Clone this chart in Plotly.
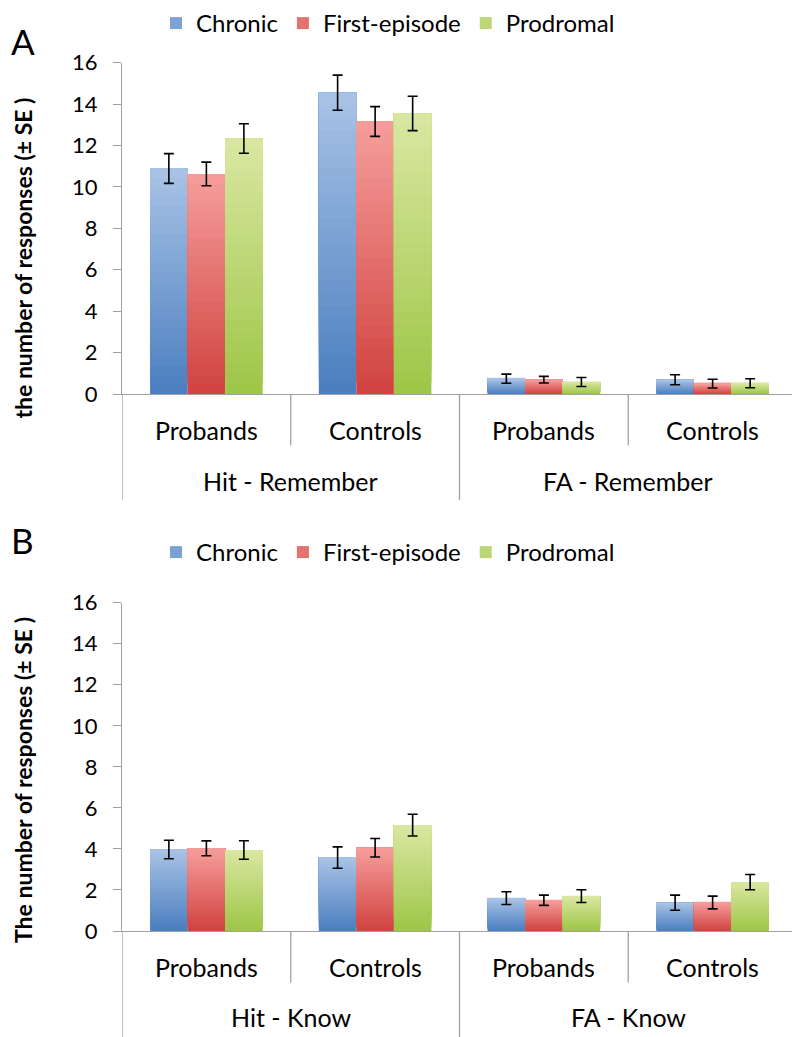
import plotly.graph_objects as go

# ---------------- data ----------------
subgroups = ["Probands", "Controls"]
groups_A = ["Hit - Remember", "FA - Remember"]
groups_B = ["Hit - Know", "FA - Know"]
series = ["Chronic", "First-episode", "Prodromal"]
y_ticks = [0, 2, 4, 6, 8, 10, 12, 14, 16]

# order: (group1, Probands), (group1, Controls), (group2, Probands), (group2, Controls)
chronic_A = [10.89, 14.55, 0.74, 0.69]
chronic_A_se = [0.72, 0.85, 0.22, 0.24]
first_A = [10.63, 13.16, 0.69, 0.50]
first_A_se = [0.57, 0.72, 0.16, 0.21]
prodromal_A = [12.34, 13.55, 0.58, 0.52]
prodromal_A_se = [0.71, 0.83, 0.22, 0.22]

chronic_B = [3.97, 3.58, 1.60, 1.38]
chronic_B_se = [0.45, 0.52, 0.31, 0.37]
first_B = [4.03, 4.06, 1.50, 1.39]
first_B_se = [0.36, 0.45, 0.25, 0.31]
prodromal_B = [3.95, 5.16, 1.70, 2.38]
prodromal_B_se = [0.45, 0.53, 0.31, 0.37]

# ---------------- style ----------------
FONT = "Lato"
GRAY = "#A0A0A0"
grad = {  # (bottom colour, top colour)
    "Chronic": ((74, 126, 191), (169, 195, 230)),
    "First-episode": ((208, 66, 63), (246, 158, 156)),
    "Prodromal": ((157, 198, 70), (218, 231, 162)),
}
NSEG = 24


def mix(c0, c1, t):
    return "rgb(%d,%d,%d)" % tuple(round(a + (b - a) * t) for a, b in zip(c0, c1))


W, H = 800, 1037
OFF = 8  # page body margin in front of the figure


def fx(p):  # page x pixel -> paper x
    return (p - OFF) / W


def fy(p):  # page y pixel -> paper y
    return 1 - (p - OFF) / H


x_dom = [fx(122), fx(797)]
yA_dom = [fy(394), fy(62.7)]
yB_dom = [fy(931), fy(602.7)]

fig = go.Figure()

panels = [
    ("x", "y", "legend", [chronic_A, first_A, prodromal_A],
     [chronic_A_se, first_A_se, prodromal_A_se]),
    ("x2", "y2", "legend2", [chronic_B, first_B, prodromal_B],
     [chronic_B_se, first_B_se, prodromal_B_se]),
]

pos = list(range(len(groups_A) * len(subgroups)))

for xa, ya, leg, vals_list, se_list in panels:
    for s, vals, ses in zip(series, vals_list, se_list):
        c0, c1 = grad[s]
        for k in range(NSEG):
            t = (k + 0.5) / NSEG
            # each slice reaches to the bar top; the next slice covers its upper part
            fig.add_trace(go.Bar(
                x=pos, y=[v * (NSEG - k) / NSEG for v in vals],
                base=[v * k / NSEG for v in vals],
                offsetgroup=s, xaxis=xa, yaxis=ya,
                marker=dict(color=mix(c0, c1, t), line=dict(width=0)),
                name=s, legend=leg, legendgroup=leg + s,
                showlegend=(k == NSEG // 2), hoverinfo="skip",
            ))
        fig.add_trace(go.Bar(
            x=pos, y=vals, offsetgroup=s, xaxis=xa, yaxis=ya,
            marker=dict(color="rgba(0,0,0,0)", line=dict(width=0)),
            error_y=dict(type="data", array=ses, visible=True, color="black",
                         thickness=1.6, width=5),
            name=s, legend=leg, legendgroup=leg + s, showlegend=False,
        ))

axis_common_x = dict(range=[-0.5, 3.5], showticklabels=False, ticks="",
                     showline=True, linecolor=GRAY, linewidth=1.3,
                     showgrid=False, zeroline=False, domain=x_dom, fixedrange=True)
axis_common_y = dict(range=[0, 16], tickvals=y_ticks, ticks="outside", ticklen=8,
                     tickcolor=GRAY, tickwidth=1.3, showline=True, linecolor=GRAY,
                     linewidth=1.3, showgrid=False, zeroline=False,
                     tickfont=dict(family=FONT, size=22, color="black"),
                     ticklabelstandoff=11, automargin=False)

legend_common = dict(orientation="h", x=fx(156), xanchor="left", yanchor="middle",
                     font=dict(family=FONT, size=24, color="black"),
                     bgcolor="rgba(0,0,0,0)", itemclick=False, itemdoubleclick=False)

fig.update_layout(
    width=W, height=H, margin=dict(l=0, r=0, t=0, b=0, autoexpand=False),
    paper_bgcolor="white", plot_bgcolor="white",
    barmode="group", bargap=0.333, bargroupgap=0,
    font=dict(family=FONT, color="black"),
    xaxis=dict(axis_common_x, anchor="y"),
    yaxis=dict(axis_common_y, domain=yA_dom, anchor="x"),
    xaxis2=dict(axis_common_x, anchor="y2"),
    yaxis2=dict(axis_common_y, domain=yB_dom, anchor="x2"),
    legend=dict(legend_common, y=fy(23.5)),
    legend2=dict(legend_common, y=fy(552.5)),
)

shapes = []
annotations = []
for xa, ya, groups, ytitle, ytitle_y, plabel, plabel_y, dom in [
    ("x", "y", groups_A, "the number of responses (± SE )", 258.5, "A", 41, yA_dom),
    ("x2", "y2", groups_B, "The number of responses (± SE )", 780, "B", 539.5, yB_dom),
]:
    dom_px = (dom[1] - dom[0]) * H
    inner = -51.5 / dom_px
    outer = -106 / dom_px
    n_sub = len(subgroups)
    for b in range(len(groups) * n_sub + 1):
        xb = b - 0.5
        shapes.append(dict(type="line", xref=xa, yref=ya + " domain", x0=xb, x1=xb,
                           y0=0, y1=(outer if b % n_sub == 0 else inner),
                           line=dict(color=GRAY, width=1.3)))
    for gi, g in enumerate(groups):
        for si, sg in enumerate(subgroups):
            annotations.append(dict(text=sg, x=gi * n_sub + si, xref=xa,
                                    y=-35.5 / dom_px, yref=ya + " domain",
                                    showarrow=False, yanchor="middle",
                                    font=dict(family=FONT, size=25, color="black")))
        annotations.append(dict(text=g, x=gi * n_sub + (n_sub - 1) / 2, xref=xa,
                                y=-86.5 / dom_px, yref=ya + " domain",
                                showarrow=False, yanchor="middle",
                                font=dict(family=FONT, size=25, color="black")))
    annotations.append(dict(text="<b>" + ytitle + "</b>", textangle=-90,
                            x=fx(23), xref="paper", y=fy(ytitle_y), yref="paper",
                            showarrow=False, xanchor="center", yanchor="middle",
                            font=dict(family=FONT, size=23, color="black")))
    annotations.append(dict(text=plabel, x=fx(OFF + 1), xref="paper",
                            y=fy(plabel_y), yref="paper", showarrow=False,
                            xanchor="left", yanchor="middle",
                            font=dict(family=FONT, size=35, color="black")))

fig.update_layout(shapes=shapes, annotations=annotations)
fig.write_html("out.html")
